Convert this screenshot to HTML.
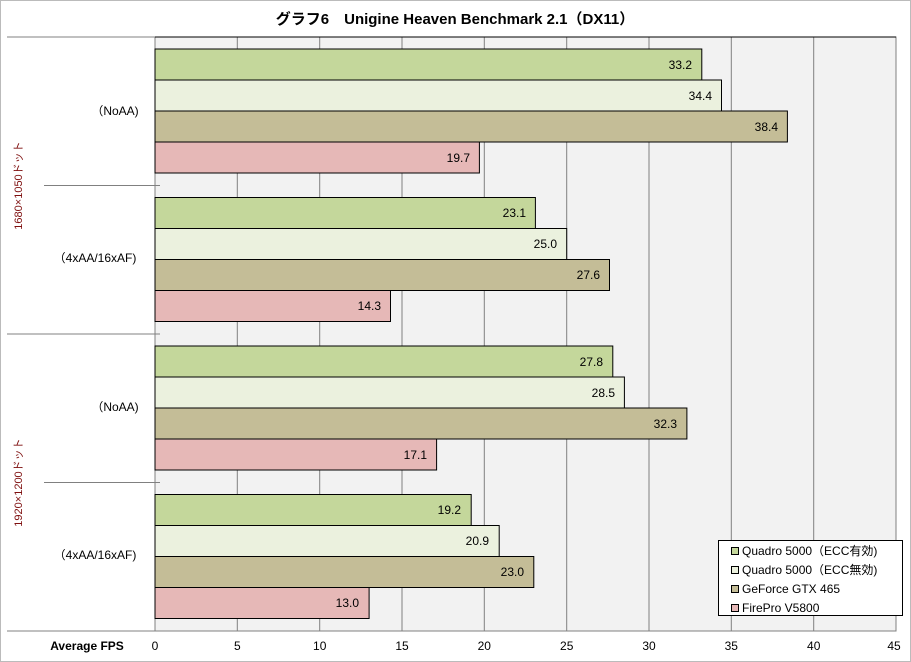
<!DOCTYPE html>
<html><head><meta charset="utf-8"><style>
body{margin:0;background:#fff;}
svg{display:block;font-family:"Liberation Sans","Noto Sans CJK JP",sans-serif;}
</style></head><body>
<svg width="911" height="662" xmlns="http://www.w3.org/2000/svg">
<rect x="0.5" y="0.5" width="910" height="661" fill="#fff" stroke="#bbb"/>
<text x="455" y="24" text-anchor="middle" font-size="15" font-weight="bold">グラフ6　Unigine Heaven Benchmark 2.1（DX11）</text>
<rect x="155" y="37" width="741" height="594" fill="#f2f2f2" stroke="#808080"/>
<g stroke="#808080">
<line x1="237.3" y1="37" x2="237.3" y2="631"/><line x1="319.7" y1="37" x2="319.7" y2="631"/>
<line x1="402" y1="37" x2="402" y2="631"/><line x1="484.3" y1="37" x2="484.3" y2="631"/>
<line x1="566.7" y1="37" x2="566.7" y2="631"/><line x1="649" y1="37" x2="649" y2="631"/>
<line x1="731.3" y1="37" x2="731.3" y2="631"/><line x1="813.7" y1="37" x2="813.7" y2="631"/>
<line x1="7" y1="37" x2="160" y2="37"/><line x1="44" y1="185.5" x2="160" y2="185.5"/>
<line x1="7" y1="334" x2="160" y2="334"/><line x1="44" y1="482.5" x2="160" y2="482.5"/>
<line x1="7" y1="631" x2="160" y2="631"/>
</g>
<line x1="155" y1="37" x2="896" y2="37" stroke="#000"/>
<g stroke="#000" stroke-width="1">
<rect x="155" y="49" width="546.8" height="31" fill="#c4d79b"/>
<rect x="155" y="80" width="566.5" height="31" fill="#ebf1de"/>
<rect x="155" y="111" width="632.4" height="31" fill="#c4bd97"/>
<rect x="155" y="142" width="324.4" height="31" fill="#e6b8b7"/>
<rect x="155" y="197.5" width="380.4" height="31" fill="#c4d79b"/>
<rect x="155" y="228.5" width="411.7" height="31" fill="#ebf1de"/>
<rect x="155" y="259.5" width="454.5" height="31" fill="#c4bd97"/>
<rect x="155" y="290.5" width="235.5" height="31" fill="#e6b8b7"/>
<rect x="155" y="346" width="457.8" height="31" fill="#c4d79b"/>
<rect x="155" y="377" width="469.4" height="31" fill="#ebf1de"/>
<rect x="155" y="408" width="531.9" height="31" fill="#c4bd97"/>
<rect x="155" y="439" width="281.6" height="31" fill="#e6b8b7"/>
<rect x="155" y="494.5" width="316.2" height="31" fill="#c4d79b"/>
<rect x="155" y="525.5" width="344.2" height="31" fill="#ebf1de"/>
<rect x="155" y="556.5" width="378.8" height="31" fill="#c4bd97"/>
<rect x="155" y="587.5" width="214.1" height="31" fill="#e6b8b7"/>
</g>
<g font-size="12" text-anchor="end">
<text x="692" y="69">33.2</text><text x="712" y="100">34.4</text><text x="778" y="131">38.4</text><text x="470" y="162">19.7</text>
<text x="526" y="217">23.1</text><text x="557" y="248">25.0</text><text x="600" y="279">27.6</text><text x="381" y="310">14.3</text>
<text x="603" y="366">27.8</text><text x="615" y="397">28.5</text><text x="677" y="428">32.3</text><text x="427" y="459">17.1</text>
<text x="461" y="514">19.2</text><text x="489" y="545">20.9</text><text x="524" y="576">23.0</text><text x="359" y="607">13.0</text>
</g>
<g font-size="12" text-anchor="middle">
<text x="115" y="115">（NoAA)</text><text x="95" y="262">（4xAA/16xAF)</text>
<text x="115" y="411">（NoAA)</text><text x="95" y="559">（4xAA/16xAF)</text>
</g>
<g font-size="11" fill="#7f1010" text-anchor="middle">
<text transform="translate(22,185.5) rotate(-90)">1680×1050ドット</text>
<text transform="translate(22,482.5) rotate(-90)">1920×1200ドット</text>
</g>
<text x="87" y="650" font-size="12" font-weight="bold" text-anchor="middle">Average FPS</text>
<g font-size="12" text-anchor="middle">
<text x="155" y="650">0</text><text x="237.3" y="650">5</text><text x="319.7" y="650">10</text><text x="402" y="650">15</text><text x="484.3" y="650">20</text><text x="566.7" y="650">25</text><text x="649" y="650">30</text><text x="731.3" y="650">35</text><text x="813.7" y="650">40</text><text x="894" y="650">45</text>
</g>
<rect x="718.5" y="540.5" width="184" height="75" fill="#fff" stroke="#000"/>
<g stroke="#000">
<rect x="731.5" y="547.5" width="7" height="7" fill="#c4d79b"/>
<rect x="731.5" y="566.5" width="7" height="7" fill="#ebf1de"/>
<rect x="731.5" y="585.5" width="7" height="7" fill="#c4bd97"/>
<rect x="731.5" y="604.5" width="7" height="7" fill="#e6b8b7"/>
</g>
<g font-size="12">
<text x="742" y="555">Quadro 5000（ECC有効)</text>
<text x="742" y="574">Quadro 5000（ECC無効)</text>
<text x="742" y="593">GeForce GTX 465</text>
<text x="742" y="612">FirePro V5800</text>
</g>
</svg>
</body></html>
